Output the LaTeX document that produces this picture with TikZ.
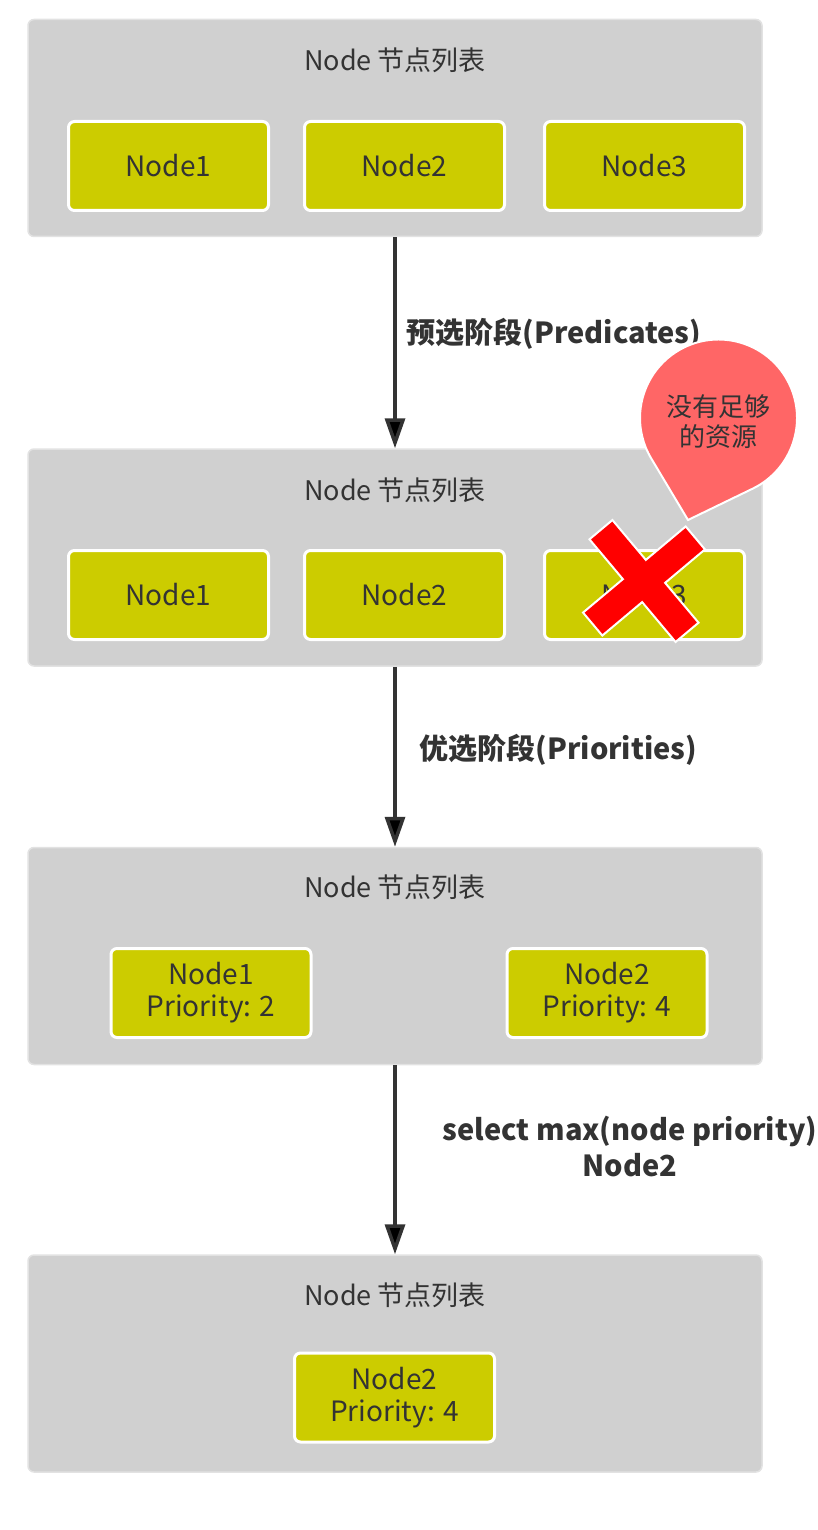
\documentclass[tikz,border=0pt]{standalone}
\usepackage{fontspec}
\setmainfont{Noto Sans CJK SC}
\usetikzlibrary{arrows.meta}
\definecolor{listgray}{HTML}{D0D0D0}
\definecolor{listedge}{HTML}{E2E2E2}
\definecolor{nodeyellow}{HTML}{CCCC00}
\definecolor{textgray}{HTML}{333333}
\definecolor{bubblered}{HTML}{FF6666}
\begin{document}
\begin{tikzpicture}[x=1pt,y=-1pt,
  list/.style={fill=listgray, draw=listedge, line width=1.5pt, rounded corners=6pt,
    minimum width=734pt, minimum height=217pt, inner sep=0pt},
  title/.style={text=textgray, font=\fontsize{27}{30}\selectfont, inner sep=0pt},
  server/.style={fill=nodeyellow, draw=white, line width=3pt, rounded corners=6pt,
    minimum width=200pt, minimum height=89pt, inner sep=0pt, text=textgray,
    align=center, font=\fontsize{28}{32}\selectfont},
  flow/.style={draw=textgray, line width=3.5pt, -{Triangle[width=20pt,length=30pt]}},
  stage/.style={text=textgray, font=\bfseries\fontsize{29}{36}\selectfont,
    align=center, inner sep=0pt, anchor=west}]
\useasboundingbox (0,0) rectangle (818,1530);

\node[list] (List1) at (395,128)  {};
\node[list] (List2) at (395,557.5) {};
\node[list] (List3) at (395,956)  {};
\node[list] (List4) at (395,1363.5) {};

\node[title] (T1) at (395,60)   {Node 节点列表};
\node[title] (T2) at (395,490)  {Node 节点列表};
\node[title] (T3) at (395,887)  {Node 节点列表};
\node[title] (T4) at (395,1295) {Node 节点列表};

\node[server] (L1-1) at (168.5,166) {Node1};
\node[server] (L1-2) at (404.5,166) {Node2};
\node[server] (L1-3) at (644.5,166) {Node3};

\node[server] (L2-1) at (168.5,595) {Node1};
\node[server] (L2-2) at (404.5,595) {Node2};
\node[server] (L2-3) at (644.5,595) {Node3};

\node[server] (L3-1) at (211,993) {Node1\\Priority: 2};
\node[server] (L3-2) at (607,993) {Node2\\Priority: 4};

\node[server] (L4-1) at (394.5,1397.5) {Node2\\Priority: 4};

\path[flow] (List1) edge node[stage, pos=0.46, xshift=10pt]
     {预选阶段(Predicates)} (List2);
\path[flow] (List2) edge node[stage, pos=0.46, xshift=23pt]
     {优选阶段(Priorities)} (List3);
\path[flow] (List3) edge node[stage, pos=0.43, xshift=46pt]
     {select max(node priority)\\Node2} (List4);

% filtered out
\coordinate (bubble) at (718.5,418);
\coordinate (tip) at (688,520);
\filldraw[fill=bubblered, draw=white, line width=2pt] (tip)
  -- ([shift={(64.1:78.5)}]bubble) arc[start angle=64.1, end angle=-210.9, radius=78.5]
  -- cycle;
\node[text=textgray, align=center, font=\fontsize{26}{30}\selectfont] (lack)
  at (718.5,422) {没有足够\\的资源};

\begin{scope}[shift={(644,581)}, rotate=-50]
\filldraw[fill=red, draw=white, line width=2pt]
  (67,15) -- (15,15) -- (15,67) -- (-15,67) -- (-15,15) -- (-67,15)
  -- (-67,-15) -- (-15,-15) -- (-15,-67) -- (15,-67) -- (15,-15) -- (67,-15) -- cycle;
\end{scope}
\end{tikzpicture}
\end{document}
